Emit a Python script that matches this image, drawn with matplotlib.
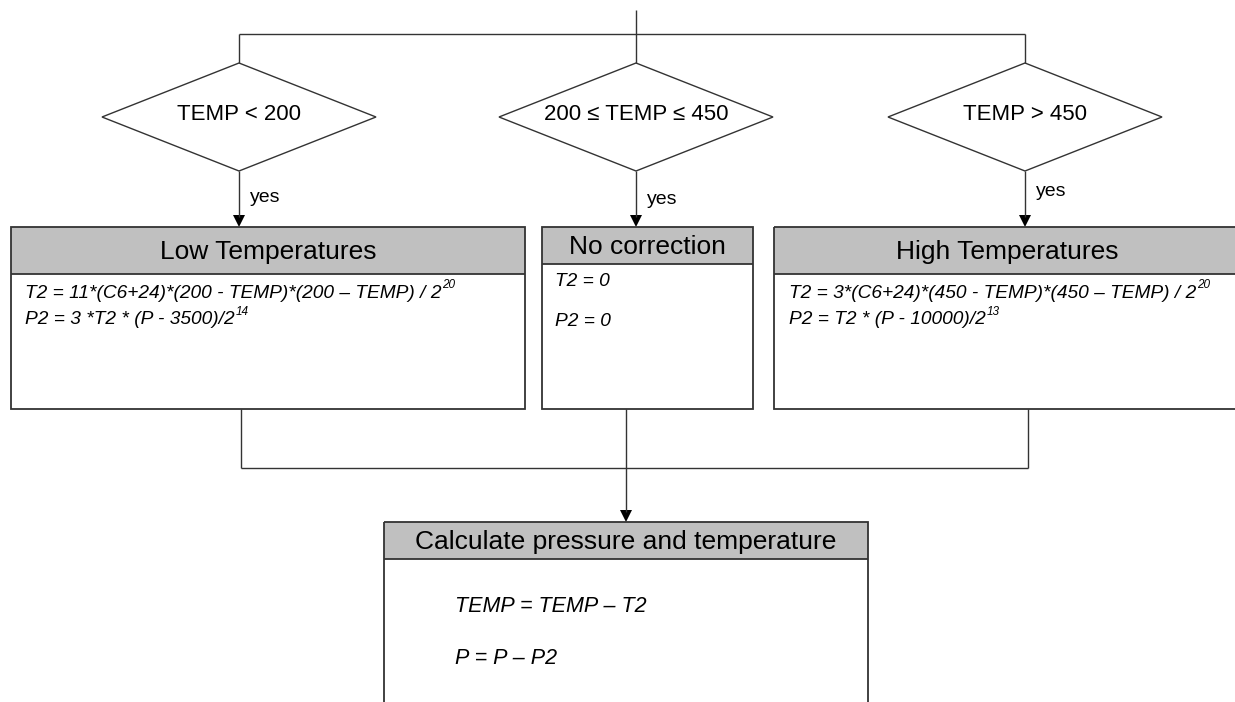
import matplotlib
matplotlib.use("Agg")
import matplotlib.pyplot as plt
from matplotlib.patches import Polygon, Rectangle

plt.rcParams["font.family"] = ["Liberation Sans", "DejaVu Sans"]

# ---- content ----
CONDITIONS = ["TEMP < 200", "200 \u2264 TEMP \u2264 450", "TEMP > 450"]
BRANCH_LABEL = "yes"
BOX_TITLES = ["Low Temperatures", "No correction", "High Temperatures"]
BOX_LINES = [
    [("T2 = 11*(C6+24)*(200 - TEMP)*(200 \u2013 TEMP) / 2", "20"),
     ("P2 = 3 *T2 * (P - 3500)/2", "14")],
    [("T2 = 0", ""), ("P2 = 0", "")],
    [("T2 = 3*(C6+24)*(450 - TEMP)*(450 \u2013 TEMP) / 2", "20"),
     ("P2 = T2 * (P - 10000)/2", "13")],
]
FINAL_TITLE = "Calculate pressure and temperature"
FINAL_LINES = ["TEMP = TEMP \u2013 T2", "P = P \u2013 P2"]

# ---- layout (pixel coordinates, y downwards) ----
W, H = 1235, 702
ENTRY_X = 636
SPLIT_Y = 34
DIAMOND_X = [239, 636, 1025]
DIAMOND_Y = 117
DIAMOND_HW, DIAMOND_HH = 137, 54
YES_Y = [197, 200, 191]
BOX_X = [(11, 525), (542, 753), (774, 1240)]
BOX_TOP, BOX_BOTTOM = 227, 409
HEADER_BOTTOM = [274, 264, 274]
TEXT_X = [25, 555, 789]
TEXT_Y = [[293, 320], [282, 322], [293, 320]]
MERGE_X = [241, 626, 1028]
MERGE_Y = 468
FINAL_X = (384, 868)
FINAL_TOP, FINAL_HEADER = 522, 559
FINAL_TEXT_X = 455
FINAL_TEXT_Y = [607, 659]

LINE = "#333333"
HEADER_FILL = "#C0C0C0"

fig = plt.figure(figsize=(W / 100, H / 100), dpi=100)
ax = fig.add_axes([0, 0, 1, 1])
ax.set_xlim(0, W)
ax.set_ylim(H, 0)
ax.axis("off")


def line(xs, ys, lw=1.0):
    ax.plot(xs, ys, color=LINE, lw=lw, solid_capstyle="butt")


def arrow(x, y0, y1):
    line([x, x], [y0, y1 - 10])
    ax.add_patch(Polygon([(x - 6, y1 - 12), (x + 6, y1 - 12), (x, y1)],
                         closed=True, color="black", lw=0))


def box(x0, x1, top, header, bottom, title, title_size=19):
    ax.add_patch(Rectangle((x0, top), x1 - x0, header - top,
                           facecolor=HEADER_FILL, edgecolor="none"))
    ax.add_patch(Rectangle((x0, top), x1 - x0, bottom - top,
                           facecolor="none", edgecolor=LINE, lw=1.3))
    line([x0, x1], [header, header], lw=1.3)
    ax.text((x0 + x1) / 2, (top + header) / 2 + 1, title, fontsize=title_size,
            ha="center", va="center", color="black")


renderer = fig.canvas.get_renderer()


def formula(x, y, main, sup, size=13.8):
    t = ax.text(x, y, main, fontsize=size, style="italic",
                ha="left", va="center", color="black")
    if sup:
        bb = t.get_window_extent(renderer)
        xe, _ = ax.transData.inverted().transform((bb.x1, bb.y1))
        ax.text(xe + 1, y - 8, sup, fontsize=8.5, style="italic",
                ha="left", va="center", color="black")


# entry and split
line([ENTRY_X, ENTRY_X], [10, SPLIT_Y])
line([DIAMOND_X[0], DIAMOND_X[-1]], [SPLIT_Y, SPLIT_Y])

for i, cond in enumerate(CONDITIONS):
    cx = DIAMOND_X[i]
    line([cx, cx], [SPLIT_Y, DIAMOND_Y - DIAMOND_HH])
    ax.add_patch(Polygon([(cx, DIAMOND_Y - DIAMOND_HH), (cx + DIAMOND_HW, DIAMOND_Y),
                          (cx, DIAMOND_Y + DIAMOND_HH), (cx - DIAMOND_HW, DIAMOND_Y)],
                         closed=True, facecolor="white", edgecolor=LINE, lw=1.0))
    ax.text(cx, DIAMOND_Y - 3, cond, fontsize=16, ha="center", va="center")
    arrow(cx, DIAMOND_Y + DIAMOND_HH, BOX_TOP)
    ax.text(cx + 11, YES_Y[i], BRANCH_LABEL, fontsize=14, ha="left", va="center")

    x0, x1 = BOX_X[i]
    box(x0, x1, BOX_TOP, HEADER_BOTTOM[i], BOX_BOTTOM, BOX_TITLES[i])
    for (main, sup), ty in zip(BOX_LINES[i], TEXT_Y[i]):
        formula(TEXT_X[i], ty, main, sup)

# merge
for mx in MERGE_X:
    line([mx, mx], [BOX_BOTTOM, MERGE_Y])
line([MERGE_X[0], MERGE_X[-1]], [MERGE_Y, MERGE_Y])
arrow(MERGE_X[1], MERGE_Y, FINAL_TOP)

box(FINAL_X[0], FINAL_X[1], FINAL_TOP, FINAL_HEADER, H + 20, FINAL_TITLE)
for txt, ty in zip(FINAL_LINES, FINAL_TEXT_Y):
    formula(FINAL_TEXT_X, ty, txt, "", size=15.5)

fig.savefig("out.png", dpi=100, facecolor="white")
